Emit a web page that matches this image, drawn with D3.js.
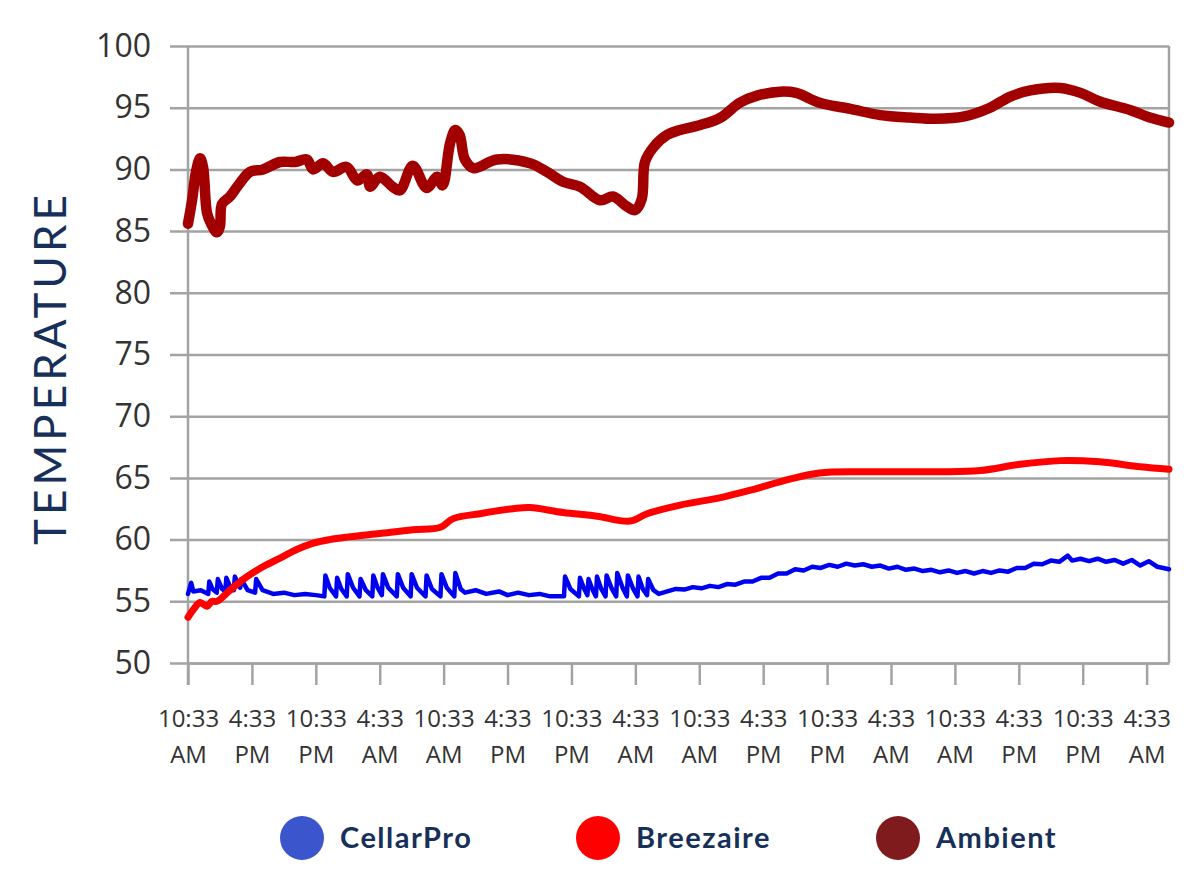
<!DOCTYPE html>
<html>
<head>
    <meta charset="utf-8">
    <script src="https://d3js.org/d3.v7.min.js"></script>
    <style>
        body { margin: 0; background: #fff; }
        svg { display: block; }
    </style>
</head>
<body>
    <svg id="chart" width="1200" height="890"></svg>

    <script>
        // ---- data (hours since first reading, temperature F) ----
        const xTickHours = [0, 6, 12, 18, 24, 30, 36, 42, 48, 54, 60, 66, 72, 78, 84, 90];
        const xTickTimes = ["10:33", "4:33", "10:33", "4:33", "10:33", "4:33", "10:33", "4:33",
                            "10:33", "4:33", "10:33", "4:33", "10:33", "4:33", "10:33", "4:33"];
        const xTickAmPm = ["AM", "PM", "PM", "AM", "AM", "PM", "PM", "AM",
                           "AM", "PM", "PM", "AM", "AM", "PM", "PM", "AM"];
        const yTicks = [50, 55, 60, 65, 70, 75, 80, 85, 90, 95, 100];

        const ambientHours = [0, 0.38, 0.75, 1.13, 1.41, 1.78, 2.16, 2.72, 3.0, 3.19, 3.94, 4.88, 5.82, 7.04,
            8.64, 10.05, 11.17, 11.74, 12.68, 13.6, 14.9, 15.9, 16.8, 17.1, 18.0, 19.2, 19.9, 21.1, 22.4,
            23.4, 23.9, 24.6, 25.1, 25.5, 26.0, 26.8, 29.0, 32.1, 33.7, 35.2, 36.8, 38.7, 39.9, 41.2, 42.0,
            42.6, 42.9, 43.7, 45.0, 46.2, 48.1, 50.0, 51.8, 53.5, 55.6, 57.1, 59.3, 62.2, 65.0, 67.8, 70.2,
            72.9, 75.3, 77.2, 79.1, 81.9, 83.8, 85.6, 88.5, 90.3, 92.1];
        const ambientTemps = [85.6, 87.5, 89.8, 90.9, 90.2, 86.5, 85.6, 84.9, 85.4, 87.2, 87.8, 88.9, 89.8, 90.0,
            90.6, 90.6, 90.8, 90.0, 90.5, 89.8, 90.2, 89.1, 89.6, 88.6, 89.4, 88.6, 88.3, 90.3, 88.5,
            89.4, 88.7, 92.1, 93.2, 92.8, 90.8, 90.1, 90.8, 90.5, 89.8, 89.0, 88.6, 87.5, 87.8, 87.0, 86.7,
            87.6, 90.6, 91.8, 92.8, 93.2, 93.6, 94.2, 95.4, 96.0, 96.3, 96.2, 95.4, 94.9, 94.4, 94.2, 94.1,
            94.3, 95.0, 95.9, 96.4, 96.6, 96.2, 95.5, 94.8, 94.2, 93.8];

        const breezaireHours = [0, 0.56, 1.13, 1.78, 2.25, 2.72, 3.94, 5.54, 7.04, 8.64, 10.2, 11.7, 13.3, 14.9,
            18.0, 21.1, 23.7, 24.9, 27.4, 30.5, 32.1, 35.2, 38.4, 41.5, 43.1, 46.2, 50.0, 52.8, 56.5, 59.3,
            63.1, 66.9, 70.6, 74.4, 78.1, 81.9, 85.6, 89.4, 92.1];
        const breezaireTemps = [53.7, 54.4, 54.9, 54.6, 55.0, 55.0, 55.9, 57.0, 57.8, 58.5, 59.2, 59.7, 60.0, 60.2,
            60.5, 60.8, 61.0, 61.7, 62.1, 62.5, 62.6, 62.2, 61.9, 61.5, 62.1, 62.8, 63.4, 64.0, 64.9, 65.4,
            65.5, 65.5, 65.5, 65.6, 66.1, 66.4, 66.3, 65.9, 65.7];

        const cellarHours = [0, 0.3, 0.5, 1.2, 1.9, 2.0, 2.3, 2.7, 2.8, 3.2, 3.5, 3.6, 4.0, 4.3, 4.4, 4.9, 5.0,
            5.6, 6.3, 6.4, 7.0, 8.0, 9.0, 10.0, 11.0, 12.0, 12.8,
            12.9, 13.3, 13.9, 14.0, 14.4, 14.9, 15.0, 15.5, 16.1, 16.2, 16.7, 17.3, 17.4, 17.8, 18.2, 18.3,
            18.8, 19.6, 19.7, 20.2, 20.9, 21.0, 21.5, 22.3, 22.4, 22.9, 23.7, 23.8, 24.3, 25.0, 25.1, 25.6,
            26.0, 27.0, 28.0, 29.2, 30.0, 31.0, 32.0, 33.0, 34.0, 35.3,
            35.4, 35.9, 36.7, 36.8, 37.2, 37.5, 37.6, 38.0, 38.3, 38.4, 38.8, 39.2, 39.3, 39.8, 40.2, 40.3,
            40.8, 41.2, 41.3, 41.8, 42.2, 42.3, 42.7, 43.1, 43.2, 43.7, 44.2,
            45.0, 45.8, 46.6, 47.4, 48.2, 49.0, 49.8, 50.6, 51.4, 52.2, 53.0, 53.8, 54.6, 55.4, 56.2, 57.0,
            57.8, 58.6, 59.4, 60.2, 61.0, 61.8, 62.6, 63.4, 64.2, 65.0, 65.8, 66.6, 67.4, 68.2, 69.0, 69.8,
            70.6, 71.4, 72.2, 73.0, 73.8, 74.6, 75.4, 76.2, 77.0, 77.8, 78.6, 79.4, 80.2, 81.0, 81.8, 82.6,
            83.0, 83.8, 84.6, 85.4, 86.2, 87.0, 87.8, 88.6, 89.4, 90.2, 91.0, 92.1];
        const cellarTemps = [55.6, 56.5, 55.8, 55.9, 55.6, 56.6, 56.0, 55.7, 56.8, 56.0, 55.8, 56.9, 56.1, 55.9, 57.0, 56.1, 56.8,
            55.9, 55.7, 56.8, 55.9, 55.6, 55.7, 55.5, 55.6, 55.5, 55.4,
            57.1, 56.1, 55.4, 56.9, 56.0, 55.4, 57.2, 56.1, 55.4, 56.8, 55.9, 55.4, 57.1, 56.1, 55.5, 57.2,
            56.1, 55.4, 57.2, 56.1, 55.4, 57.2, 56.1, 55.4, 57.1, 56.0, 55.4, 57.2, 56.1, 55.4, 57.3, 56.0,
            55.7, 55.9, 55.6, 55.8, 55.5, 55.7, 55.5, 55.6, 55.4, 55.4,
            57.0, 56.0, 55.4, 56.9, 56.0, 55.5, 56.8, 55.9, 55.4, 57.0, 56.0, 55.4, 57.1, 56.0, 55.4, 57.3,
            56.1, 55.4, 57.1, 56.0, 55.4, 57.0, 56.0, 55.5, 56.8, 55.9, 55.6,
            55.8, 56.0, 55.95, 56.15, 56.05, 56.25, 56.15, 56.4, 56.35, 56.6, 56.6, 56.9, 56.9, 57.25, 57.25, 57.6,
            57.5, 57.8, 57.7, 57.95, 57.8, 58.05, 57.9, 58.0, 57.8, 57.9, 57.65, 57.8, 57.55, 57.65, 57.45, 57.55,
            57.35, 57.5, 57.3, 57.45, 57.25, 57.45, 57.3, 57.5, 57.4, 57.7, 57.7, 58.05, 58.0, 58.3, 58.2, 58.7,
            58.3, 58.45, 58.25, 58.45, 58.2, 58.35, 58.05, 58.35, 57.9, 58.25, 57.8, 57.6];

        const legendNames = ["CellarPro", "Breezaire", "Ambient"];
        const legendColors = ["#3b55cc", "#ff0000", "#7f1b1d"];

        // ---- layout ----
        const svg = d3.select("#chart");
        const plotLeft = 188, plotRight = 1169, plotTop = 46, plotBottom = 663;
        const gridColor = "#a3a3a3";
        const textColor = "#333";
        const navy = "#17305a";

        const x = d3.scaleLinear().domain([0, 92.1]).range([plotLeft, plotRight]);
        const y = d3.scaleLinear().domain([50, 100]).range([plotBottom, plotTop]);

        // horizontal grid + y labels
        svg.append("g")
            .attr("transform", "translate(170,0)")
            .call(d3.axisLeft(y).tickValues(yTicks).tickSize(-(plotRight - 170)).tickPadding(19))
            .call(g => g.select(".domain").remove())
            .call(g => g.selectAll("line").attr("stroke", gridColor).attr("stroke-width", 2.5))
            .call(g => g.selectAll("text")
                .attr("fill", textColor)
                .style("font-family", "'Open Sans', sans-serif")
                .style("font-size", "32px"));

        // x axis ticks + two-line labels
        const xAxis = svg.append("g")
            .attr("transform", `translate(0,${plotBottom})`)
            .call(d3.axisBottom(x).tickValues(xTickHours).tickSize(22).tickSizeOuter(0).tickFormat(""))
            .call(g => g.select(".domain").attr("stroke", gridColor).attr("stroke-width", 2.5))
            .call(g => g.selectAll("line").attr("stroke", gridColor).attr("stroke-width", 2.5));

        xAxis.selectAll(".tick text").each(function(d, i) {
            const t = d3.select(this)
                .attr("y", 0).attr("dy", null)
                .attr("fill", textColor)
                .style("font-family", "'Open Sans', sans-serif")
                .style("font-size", "24px");
            t.append("tspan").attr("x", 0).attr("y", 64).text(xTickTimes[i]);
            t.append("tspan").attr("x", 0).attr("y", 100).text(xTickAmPm[i]);
        });

        // vertical axis line and right border
        svg.append("line")
            .attr("x1", plotLeft).attr("x2", plotLeft).attr("y1", plotTop).attr("y2", plotBottom + 22)
            .attr("stroke", gridColor).attr("stroke-width", 2.5);
        svg.append("line")
            .attr("x1", plotRight).attr("x2", plotRight).attr("y1", plotTop).attr("y2", plotBottom)
            .attr("stroke", gridColor).attr("stroke-width", 2.5);

        // y axis title
        svg.append("text")
            .attr("transform", "translate(66,370) rotate(-90)")
            .attr("text-anchor", "middle")
            .attr("fill", navy)
            .attr("textLength", 350)
            .attr("lengthAdjust", "spacing")
            .style("font-family", "Lato, sans-serif")
            .style("font-size", "44px")
            .text("TEMPERATURE");

        // series
        const line = d3.line()
            .x(d => x(d[0]))
            .y(d => y(d[1]));

        const series = [
            { hours: cellarHours, temps: cellarTemps, color: "#0000f0", width: 4.5 },
            { hours: breezaireHours, temps: breezaireTemps, color: "#ff0000", width: 7 },
            { hours: ambientHours, temps: ambientTemps, color: "#a20000", width: 10.5 }
        ];

        series.forEach(s => {
            svg.append("path")
                .datum(s.hours.map((h, i) => [h, s.temps[i]]))
                .attr("fill", "none")
                .attr("stroke", s.color)
                .attr("stroke-width", s.width)
                .attr("stroke-linejoin", "round")
                .attr("stroke-linecap", "round")
                .attr("d", line.curve(s.width > 5 ? d3.curveCatmullRom : d3.curveLinear));
        });

        // legend
        const legendX = [302, 598, 898];
        const legend = svg.append("g").selectAll("g")
            .data(legendNames)
            .join("g")
            .attr("transform", (d, i) => `translate(${legendX[i]},838)`);

        legend.append("circle")
            .attr("r", 22)
            .attr("fill", (d, i) => legendColors[i]);

        legend.append("text")
            .attr("x", 38)
            .attr("y", 10)
            .attr("fill", navy)
            .style("font-family", "Lato, sans-serif")
            .style("font-weight", "bold")
            .style("font-size", "29px")
            .style("letter-spacing", "1.5px")
            .text(d => d);
    </script>
</body>
</html>
